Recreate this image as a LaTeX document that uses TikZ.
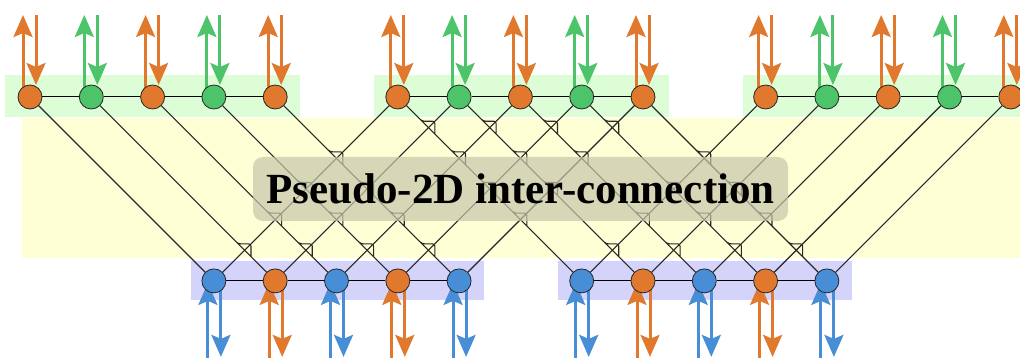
\documentclass[tikz,border=0pt]{standalone}
\usepackage{fontspec}
\setmainfont{Liberation Serif}
\usetikzlibrary{arrows.meta}
\definecolor{cOr}{RGB}{224,121,46}
\definecolor{cGr}{RGB}{78,196,106}
\definecolor{cBl}{RGB}{72,142,214}
\definecolor{bgGr}{RGB}{221,253,214}
\definecolor{bgYe}{RGB}{255,255,214}
\definecolor{bgBl}{RGB}{212,212,250}
\definecolor{boxc}{RGB}{199,199,171}
\definecolor{lnc}{RGB}{40,40,40}
\pgfdeclarelayer{bg}\pgfdeclarelayer{lines}\pgfdeclarelayer{boxl}\pgfdeclarelayer{arrl}
\pgfsetlayers{bg,lines,boxl,arrl,main}
\def\jdist{0.105}
\def\gapd{0.14}
\newcommand\drl[3]{%
  \draw[conn] (t#1) \foreach \m in {#3}{ -- ({(#1+\m)/2-\jdist},{(\m-#1)/2-\jdist}) -- ({(#1+\m)/2+\jdist},{(\m-#1)/2-\jdist}) -- ({(#1+\m)/2+\jdist},{(\m-#1)/2+\jdist}) } -- (b#2);}
\newcommand\dll[3]{%
  \draw[faint] (t#1) -- (b#2);
  \draw[conn] (t#1) \foreach \k in {#3}{ -- ({#1-(#1-\k)/2+\gapd},{(#1-\k)/2-\gapd}) ({#1-(#1-\k)/2-\gapd},{(#1-\k)/2+\gapd}) } -- (b#2);}
\tikzset{
  pnode/.style={circle, draw=black!85, line width=0.8pt, minimum size=24pt, inner sep=0pt},
  conn/.style={draw=lnc, line width=1.1pt, rounded corners=2.5pt},
  faint/.style={draw=lnc, line width=1.1pt, draw opacity=0.12},
  hline/.style={draw=black, line width=1pt},
  arr/.style={line width=3pt, -{Stealth[length=22pt,width=19pt,inset=4pt]}},
}
\begin{document}
\begin{tikzpicture}[x=1pt,y=-1pt]
\useasboundingbox (0,0) rectangle (1020,358);
\begin{pgfonlayer}{bg}
  \fill[bgGr] (5,75) rectangle (300,117);
  \fill[bgGr] (374,75) rectangle (669,117);
  \fill[bgGr] (743,75) rectangle (1020,117);
  \fill[bgYe] (22,118) rectangle (1020,258);
  \fill[bgBl] (191,261) rectangle (484,300);
  \fill[bgBl] (558,261) rectangle (852,300);
\end{pgfonlayer}
\begin{pgfonlayer}{boxl}
  \node[rounded corners=10pt, fill=boxc, fill opacity=0.7, text opacity=1,
        minimum width=535pt, minimum height=64pt, inner sep=0pt,
        font=\fontsize{43}{48}\selectfont\bfseries] (title) at (520.5,189) {Pseudo-2D inter-connection};
\end{pgfonlayer}
\begin{scope}[shift={(30pt,-97pt)}, x=61.3pt, y=-61.3pt]
  % nodes
  \foreach \g in {0,6,12}{
    \foreach \i/\c in {0/cOr,1/cGr,2/cOr,3/cGr,4/cOr}{
      \pgfmathtruncatemacro\k{\g+\i}
      \node[pnode, fill=\c] (t\k) at (\k,0) {};
      \begin{pgfonlayer}{arrl}
        \draw[arr, draw=\c] ([xshift=-7pt]t\k.center) -- ([xshift=-7pt,yshift=82pt]t\k.center);
        \draw[arr, draw=\c] ([xshift=6pt,yshift=82pt]t\k.center) -- ([xshift=6pt,yshift=12pt]t\k.center);
      \end{pgfonlayer}
    }
  }
  \foreach \g in {3,9}{
    \foreach \i/\c in {0/cBl,1/cOr,2/cBl,3/cOr,4/cBl}{
      \pgfmathtruncatemacro\k{\g+\i}
      \node[pnode, fill=\c] (b\k) at (\k,3) {};
      \begin{pgfonlayer}{arrl}
        \draw[arr, draw=\c] ([xshift=-6pt,yshift=-77pt]b\k.center) -- ([xshift=-6pt,yshift=-2pt]b\k.center);
        \draw[arr, draw=\c] ([xshift=7pt]b\k.center) -- ([xshift=7pt,yshift=-76pt]b\k.center);
      \end{pgfonlayer}
    }
  }
  \begin{pgfonlayer}{lines}
    \foreach \a/\b in {0/1,1/2,2/3,3/4,6/7,7/8,8/9,9/10,12/13,13/14,14/15,15/16}
      \draw[hline] (t\a) -- (t\b);
    \foreach \a/\b in {3/4,4/5,5/6,6/7,9/10,10/11,11/12,12/13}
      \draw[hline] (b\a) -- (b\b);
    % down-right connectors (with line jumps)
    \draw[conn] (t0) -- (b3);
    \drl{1}{4}{6}
    \drl{2}{5}{6,7}
    \drl{3}{6}{6,7,8}
    \drl{4}{7}{6,7,8,9}
    \drl{6}{9}{7,8,9,10}
    \drl{7}{10}{8,9,10,12}
    \drl{8}{11}{9,10,12,13}
    \drl{9}{12}{10,12,13,14}
    \drl{10}{13}{12,13,14,15}
    % down-left connectors
    \dll{6}{3}{4,3,2,1}
    \dll{7}{4}{6,4,3,2}
    \dll{8}{5}{7,6,4,3}
    \dll{9}{6}{8,7,6,4}
    \dll{10}{7}{9,8,7,6}
    \dll{12}{9}{10,9,8,7}
    \dll{13}{10}{10,9,8}
    \dll{14}{11}{10,9}
    \dll{15}{12}{10}
    \draw[conn] (t16) -- (b13);
  \end{pgfonlayer}
\end{scope}
\end{tikzpicture}
\end{document}
